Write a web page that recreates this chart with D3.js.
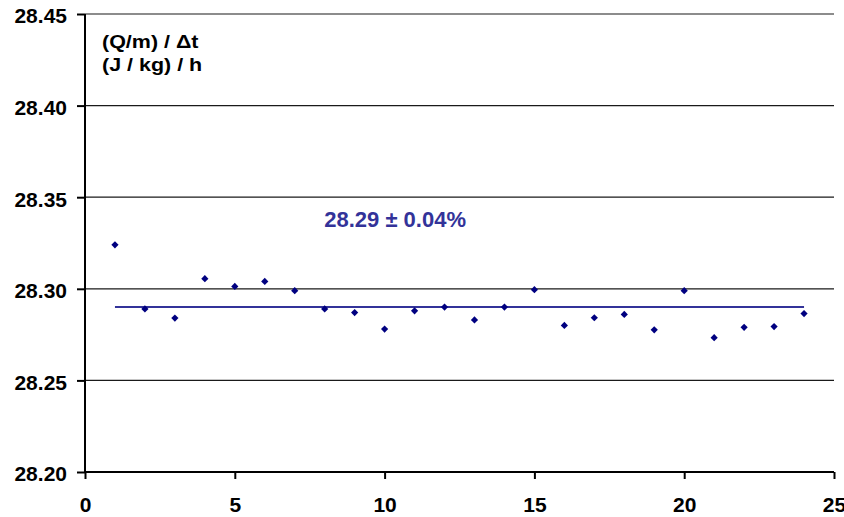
<!DOCTYPE html>
<html>
<head>
<meta charset="utf-8">
<script src="https://cdn.jsdelivr.net/npm/d3@7"></script>
<style>
  body { margin: 0; background: #fff; }
  svg text { font-family: Arial, "Liberation Sans", sans-serif; font-weight: bold; }
</style>
</head>
<body>
<div id="chart"></div>
<script>
// run number and measured value
var runs = [1, 2, 3, 4, 5, 6, 7, 8, 9, 10, 11, 12, 13, 14, 15, 16, 17, 18, 19, 20, 21, 22, 23, 24];
var values = [28.324, 28.289, 28.284, 28.3055, 28.3013, 28.304, 28.299, 28.289, 28.287,
  28.278, 28.288, 28.290, 28.283, 28.290, 28.2995, 28.280, 28.2842, 28.286, 28.2776,
  28.299, 28.2733, 28.279, 28.2794, 28.2865];
var meanValue = 28.29;
var meanSpan = [1, 24];
var xTicks = [0, 5, 10, 15, 20, 25];
var yTicks = [28.20, 28.25, 28.30, 28.35, 28.40, 28.45];
var unitLines = ["(Q/m) / \u0394t", "(J / kg) / h"];
var statLabel = "28.29 \u00b1 0.04%";

var width = 844, height = 517;
var margins = { top: 14, right: 10, bottom: 45, left: 85 };
var chartWidth = width - margins.left - margins.right;
var chartHeight = height - margins.top - margins.bottom;

var svg = d3.select("#chart")
  .append("svg")
  .attr("width", width)
  .attr("height", height);

var chartElement = svg.append("g")
  .attr("transform", `translate(${margins.left},${margins.top})`);

var xScale = d3.scaleLinear().domain([0, 25]).range([0, chartWidth]);
var yScale = d3.scaleLinear().domain([28.20, 28.45]).range([chartHeight, 0]);

// grid lines
chartElement.append("g")
  .attr("class", "grid")
  .selectAll("line")
  .data(yTicks.slice(1))
  .enter()
  .append("line")
  .attr("x1", 0)
  .attr("x2", chartWidth)
  .attr("y1", d => yScale(d))
  .attr("y2", d => yScale(d))
  .attr("stroke", "#1a1a1a")
  .attr("stroke-width", 1.2);

// axes
var xAxis = d3.axisBottom(xScale)
  .tickValues(xTicks)
  .tickSize(7)
  .tickPadding(18)
  .tickFormat(d3.format("d"));

var yAxis = d3.axisLeft(yScale)
  .tickValues(yTicks)
  .tickSize(8)
  .tickPadding(10)
  .tickFormat(d3.format(".2f"));

var gx = chartElement.append("g")
  .attr("transform", `translate(0,${chartHeight})`)
  .call(xAxis);

var gy = chartElement.append("g")
  .call(yAxis);

[gx, gy].forEach(function(g) {
  g.select(".domain").attr("stroke", "#000").attr("stroke-width", 2);
  g.selectAll(".tick line").attr("stroke", "#000").attr("stroke-width", 2);
  g.selectAll(".tick text")
    .attr("fill", "#000")
    .style("font-family", "Arial, 'Liberation Sans', sans-serif")
    .style("font-weight", "bold");
});
gx.selectAll(".tick text").style("font-size", "21px");
gy.selectAll(".tick text").style("font-size", "21px").attr("dy", "0.42em");
gx.select(".domain").attr("d", `M0,0H${chartWidth}`);
gy.select(".domain").attr("d", `M0,${chartHeight}V0`);

// mean line
chartElement.append("line")
  .attr("x1", xScale(meanSpan[0]))
  .attr("x2", xScale(meanSpan[1]))
  .attr("y1", yScale(meanValue))
  .attr("y2", yScale(meanValue))
  .attr("stroke", "#333399")
  .attr("stroke-width", 2);

// points
var marker = d3.symbol().type(d3.symbolSquare).size(26);
chartElement.append("g")
  .selectAll("path")
  .data(runs.map((r, i) => ({ run: r, value: values[i] })))
  .enter()
  .append("path")
  .attr("d", marker)
  .attr("transform", d => `translate(${xScale(d.run)},${yScale(d.value)}) rotate(45)`)
  .attr("fill", "#000080");

// unit label
chartElement.append("g")
  .attr("transform", "translate(17,0) scale(1.13,1)")
  .selectAll("text")
  .data(unitLines)
  .enter()
  .append("text")
  .attr("x", 0)
  .attr("y", (d, i) => 34 + i * 23)
  .attr("font-size", "19px")
  .attr("fill", "#000")
  .text(d => d);

// stat label
chartElement.append("text")
  .attr("x", xScale(10.35))
  .attr("y", 213)
  .attr("text-anchor", "middle")
  .attr("font-size", "22px")
  .attr("fill", "#333399")
  .text(statLabel);
</script>
</body>
</html>
